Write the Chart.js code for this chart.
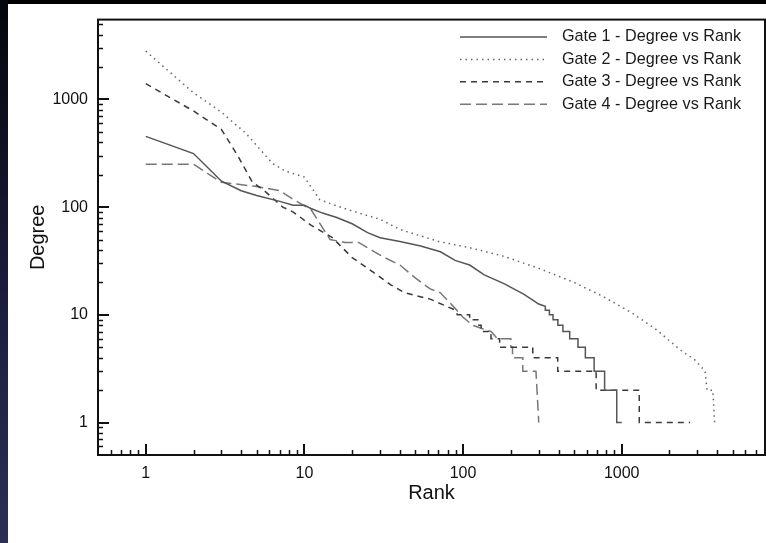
<!DOCTYPE html>
<html>
<head>
<meta charset="utf-8">
<script src="https://cdn.jsdelivr.net/npm/chart.js@4/dist/chart.umd.min.js"></script>
<style>
  html, body { margin: 0; padding: 0; background: #000; }
  #wrap { position: relative; width: 766px; height: 543px; overflow: hidden; }
  #side { position: absolute; left: 0; top: 0; width: 8px; height: 543px; background: linear-gradient(#05060c, #1c2040 60%, #2a2f55); }
  #panel { position: absolute; left: 8px; top: 4px; width: 758px; height: 539px; background: #fff; }
  #c { position: absolute; left: 0; top: 0; }
</style>
</head>
<body>
<div id="wrap">
  <div id="side"></div>
  <div id="panel"></div>
  <canvas id="c" width="766" height="543"></canvas>
</div>
<script>
// tick labels
var xTicks = [1, 10, 100, 1000];
var yTicks = [1, 10, 100, 1000];

// Gate 1 - solid
var gate1Rank   = [1, 2, 3, 4, 5, 7, 8.5, 10, 11, 13, 16, 20, 25, 30, 40, 54, 72, 89, 110, 136, 181, 241, 300, 330, 330, 350, 350, 369, 369, 396, 396, 426, 426, 470, 470, 530, 530, 590, 590, 670, 670, 780, 780, 930, 930, 1000];
var gate1Degree = [453, 314, 174, 142, 128, 113, 104, 104, 97, 88, 80, 70, 58, 52, 48, 43.5, 38.5, 32, 29, 23.5, 19.5, 15.6, 12.6, 12, 11, 11, 10, 10, 9, 9, 8, 8, 7, 7, 6, 6, 5, 5, 4, 4, 3, 3, 2, 2, 1, 1];

// Gate 2 - dotted
var gate2Rank   = [1, 2, 3, 4.3, 6.3, 7.7, 10, 12.5, 15, 20, 30, 40, 70, 110, 180, 300, 500, 750, 1150, 1650, 2350, 2900, 3350, 3450, 3750, 3850];
var gate2Degree = [2800, 1150, 760, 480, 254, 214, 190, 117, 106, 92, 77, 62, 48, 42, 35, 27, 20, 15, 10.5, 7.3, 4.7, 3.8, 3, 2, 2, 1];

// Gate 3 - short dashes
var gate3Rank   = [1, 2, 3, 3.8, 4.7, 5.5, 7.3, 8.5, 11, 15, 20, 27, 35, 43, 62, 90, 92, 110, 110, 124, 124, 130, 130, 150, 150, 170, 170, 275, 275, 395, 395, 690, 690, 1290, 1290, 2700];
var gate3Degree = [1400, 780, 525, 300, 170, 145, 100, 90, 68, 52, 34, 25, 19, 16, 14, 11, 10, 10, 9, 9, 8, 8, 7, 7, 6, 6, 5, 5, 4, 4, 3, 3, 2, 2, 1, 1];

// Gate 4 - long dashes
var gate4Rank   = [1, 2, 3, 5, 7, 8.5, 11, 14.5, 18, 22, 28, 32, 40, 50, 62, 72, 90, 100, 115, 130, 150, 165, 200, 200, 205, 205, 238, 238, 288, 300];
var gate4Degree = [250, 250, 170, 155, 142, 118, 95, 50, 47, 47, 38, 34, 29, 22, 17.4, 16, 11.3, 9.5, 8, 7.5, 7, 6, 6, 5, 5, 4, 4, 3, 3, 1];

var seriesNames = ['Gate 1 - Degree vs Rank', 'Gate 2 - Degree vs Rank', 'Gate 3 - Degree vs Rank', 'Gate 4 - Degree vs Rank'];

function pts(rank, deg) {
  return rank.map(function (r, i) { return { x: r, y: deg[i] }; });
}

var FONT = '"Liberation Sans", Arial, Helvetica, sans-serif';

function minorValues(min, max) {
  var out = [];
  for (var d = -1; d <= 4; d++) {
    for (var m = 2; m <= 9; m++) {
      var v = m * Math.pow(10, d);
      if (v > min && v < max) out.push(v);
    }
  }
  return out;
}

// frame, inward ticks and legend
var framePlugin = {
  id: 'frame',
  afterDraw: function (chart) {
    var ctx = chart.ctx, a = chart.chartArea;
    var xs = chart.scales.x, ys = chart.scales.y;
    ctx.save();
    ctx.strokeStyle = '#111';
    ctx.lineWidth = 1.5;
    minorValues(xs.min, xs.max).forEach(function (v) {
      var px = Math.round(xs.getPixelForValue(v)) + 0.5;
      ctx.beginPath(); ctx.moveTo(px, a.bottom); ctx.lineTo(px, a.bottom - 5); ctx.stroke();
    });
    minorValues(ys.min, ys.max).forEach(function (v) {
      var py = Math.round(ys.getPixelForValue(v)) + 0.5;
      ctx.beginPath(); ctx.moveTo(a.left, py); ctx.lineTo(a.left + 5, py); ctx.stroke();
    });
    ctx.lineWidth = 2;
    xTicks.forEach(function (v) {
      var px = Math.round(xs.getPixelForValue(v));
      ctx.beginPath(); ctx.moveTo(px, a.bottom); ctx.lineTo(px, a.bottom - 11); ctx.stroke();
    });
    yTicks.forEach(function (v) {
      var py = Math.round(ys.getPixelForValue(v));
      ctx.beginPath(); ctx.moveTo(a.left, py); ctx.lineTo(a.left + 11, py); ctx.stroke();
    });
    ctx.lineWidth = 2;
    ctx.strokeRect(a.left, a.top, a.right - a.left, a.bottom - a.top);

    // legend
    ctx.font = '16.2px ' + FONT;
    ctx.textBaseline = 'middle';
    ctx.textAlign = 'left';
    chart.data.datasets.forEach(function (ds, i) {
      var y = 37 + i * 22.4;
      ctx.save();
      ctx.strokeStyle = ds.borderColor;
      ctx.lineWidth = ds.borderWidth;
      ctx.setLineDash(ds.borderDash || []);
      ctx.beginPath(); ctx.moveTo(460, y); ctx.lineTo(547, y); ctx.stroke();
      ctx.restore();
      ctx.fillStyle = '#1a1a1a';
      ctx.fillText(ds.label, 562, y);
    });
    ctx.restore();
  }
};

new Chart(document.getElementById('c'), {
  type: 'line',
  data: {
    datasets: [
      { label: seriesNames[0], data: pts(gate1Rank, gate1Degree), borderColor: '#555', borderWidth: 1.5, borderDash: [] },
      { label: seriesNames[1], data: pts(gate2Rank, gate2Degree), borderColor: '#666', borderWidth: 1.5, borderDash: [1.5, 4] },
      { label: seriesNames[2], data: pts(gate3Rank, gate3Degree), borderColor: '#3a3a3a', borderWidth: 1.5, borderDash: [6, 5] },
      { label: seriesNames[3], data: pts(gate4Rank, gate4Degree), borderColor: '#777', borderWidth: 1.5, borderDash: [11, 5] }
    ]
  },
  options: {
    responsive: false,
    animation: false,
    elements: { point: { radius: 0 }, line: { tension: 0, fill: false } },
    layout: { padding: { left: 0, top: 14, right: 1, bottom: 0 } },
    plugins: { legend: { display: false }, tooltip: { enabled: false } },
    scales: {
      x: {
        type: 'logarithmic',
        min: 0.5,
        max: 8000,
        afterBuildTicks: function (s) { s.ticks = xTicks.map(function (v) { return { value: v }; }); },
        afterFit: function (s) { s.height = 88; },
        grid: { display: false, drawTicks: false },
        border: { display: false },
        ticks: { color: '#111', font: { family: FONT, size: 16 }, padding: 9, maxRotation: 0, autoSkip: false,
                 callback: function (v) { return String(v); } },
        title: { display: true, text: 'Rank', color: '#111', font: { family: FONT, size: 20 }, padding: { bottom: 38 } }
      },
      y: {
        type: 'logarithmic',
        min: 0.5,
        max: 5500,
        afterBuildTicks: function (s) { s.ticks = yTicks.map(function (v) { return { value: v }; }); },
        afterFit: function (s) { s.width = 98; },
        grid: { display: false, drawTicks: false },
        border: { display: false },
        ticks: { color: '#111', font: { family: FONT, size: 16 }, padding: 10, autoSkip: false,
                 callback: function (v) { return String(v); } },
        title: { display: true, text: 'Degree', color: '#111', font: { family: FONT, size: 20 }, padding: { top: 26 } }
      }
    }
  },
  plugins: [framePlugin]
});
</script>
</body>
</html>
